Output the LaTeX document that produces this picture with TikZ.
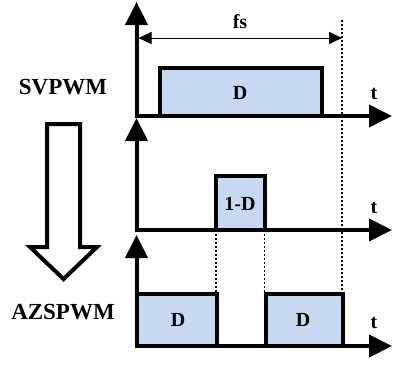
\documentclass[tikz,border=0pt]{standalone}
\usepackage{fontspec}
\setmainfont{Liberation Serif}
\usetikzlibrary{arrows.meta}
\definecolor{pulsefill}{RGB}{198,217,240}

\begin{document}
\begin{tikzpicture}[x=1pt, y=-1pt, line join=miter, inner sep=0pt, outer sep=0pt,
	axis/.style={line width=4pt, {Triangle[length=23pt,width=22pt]}-{Triangle[length=23pt,width=22pt]}},
	pulse/.style={line width=4pt, fill=pulsefill},
	guide/.style={line width=1.2pt, dash pattern=on 2pt off 2pt},
	bigtext/.style={font=\bfseries\fontsize{23}{23}\selectfont},
	smalltext/.style={font=\bfseries\fontsize{20}{20}\selectfont}]
	
	\useasboundingbox (0,0) rectangle (395,367);
	
	% Đường chấm dọc
	\draw[guide] (342,20) -- (342,293.5);
	\draw[guide] (216,230) -- (216,293.5);
	\draw[guide] (264.5,230) -- (264.5,293.5);
	
	% Xung SVPWM
	\draw[pulse] (159.5,116) -- (159.5,67.5) -- (321.5,67.5) -- (321.5,116);
	\node[smalltext] (d1) at (240,93) {D};
	
	% Xung giữa
	\draw[pulse] (215.5,230) -- (215.5,175.5) -- (264.5,175.5) -- (264.5,230);
	\node[smalltext] (d2) at (240,204) {1-D};
	
	% Xung AZSPWM
	\draw[pulse] (136.5,346) -- (136.5,293.5) -- (216.5,293.5) -- (216.5,346);
	\draw[pulse] (265.5,346) -- (265.5,293.5) -- (342.5,293.5) -- (342.5,346);
	\node[smalltext] (d3) at (178,320) {D};
	\node[smalltext] (d4) at (303,320) {D};
	
	% Trục
	\draw[axis] (136.5,2) -- (136.5,116) -- (392,116);
	\draw[axis] (136.5,118) -- (136.5,230) -- (392,230);
	\draw[axis] (136.5,235) -- (136.5,346) -- (392,346);
	\node[smalltext] (t1) at (374,94) {t};
	\node[smalltext] (t2) at (374,208) {t};
	\node[smalltext] (t3) at (374,323) {t};
	
	% Chu kỳ fs
	\draw[line width=1pt, {Triangle[length=13pt,width=12pt]}-{Triangle[length=13pt,width=12pt]}] (138.5,38) -- (342,38);
	\node[smalltext] (fs) at (240,22) {fs};
	
	% Mũi tên rỗng
	\draw[line width=4pt] (47,124) -- (80,124) -- (80,247) -- (97,247) -- (63.5,279) -- (30,247) -- (47,247) -- cycle;
	\node[bigtext] (sv) at (63,87) {SVPWM};
	\node[bigtext] (az) at (63,312) {AZSPWM};
	
\end{tikzpicture}
\end{document}
